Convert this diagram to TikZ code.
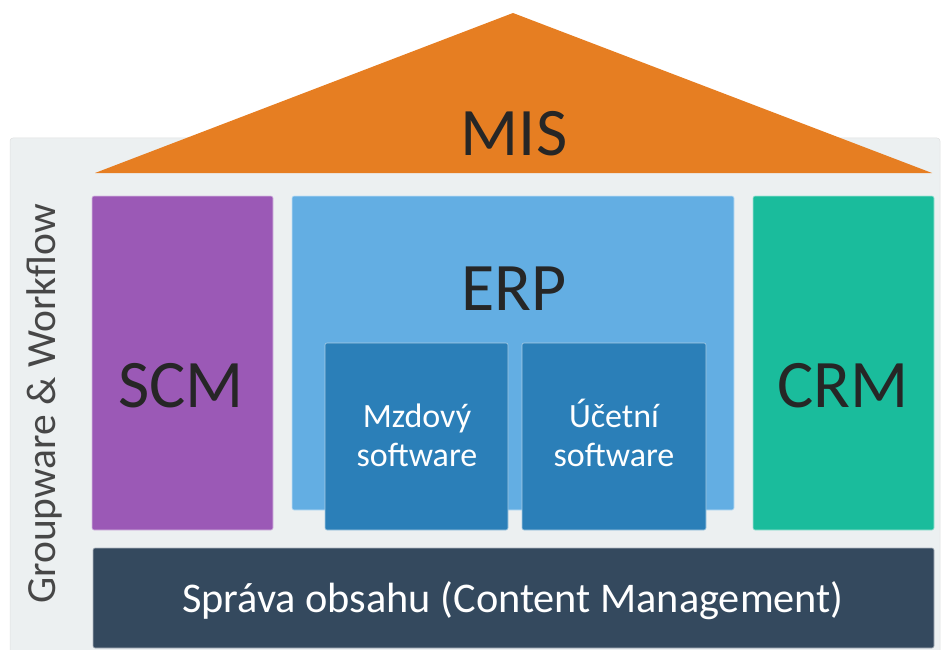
\documentclass[tikz,border=0pt]{standalone}
\usepackage{fontspec}
\setmainfont{Carlito}
\definecolor{panelgrey}{HTML}{ECF0F1}
\definecolor{roofor}{HTML}{E67E22}
\definecolor{scmpurple}{HTML}{9B59B6}
\definecolor{erpblue}{HTML}{63AEE3}
\definecolor{modblue}{HTML}{2B7FB8}
\definecolor{crmteal}{HTML}{1ABC9C}
\definecolor{basenavy}{HTML}{34495E}
\definecolor{inkdark}{HTML}{262626}
\tikzset{
  block/.style={rounded corners=2pt, draw=white!60!#1, line width=0.6pt, fill=#1},
  biglabel/.style={font=\fontsize{68}{70}\selectfont, text=inkdark, anchor=base, inner sep=0pt},
  modlabel/.style={font=\fontsize{34}{40}\selectfont, text=white, anchor=base, inner sep=0pt},
}
\begin{document}
\begin{tikzpicture}[x=1pt, y=-1pt]
\useasboundingbox (0,0) rectangle (942,650);
% grey panel behind the house
\draw[rounded corners=3pt, fill=panelgrey, draw=black!12, line width=0.5pt] (10,138) rectangle (940,670);
% roof
\fill[roofor] (95,173) -- (513,13) -- (932,173) -- cycle;
\node[biglabel] (mis) at (514,155) {MIS};
% pillars
\path[block=scmpurple] (92,196) rectangle (273,530);
\path[block=erpblue] (292,196) rectangle (734,510);
\path[block=crmteal] (753,196) rectangle (934,530);
\node[biglabel] (scm) at (181,407) {SCM};
\node[biglabel] (erp) at (514,310) {ERP};
\node[biglabel] (crm) at (843,407) {CRM};
% modules inside ERP
\path[block=modblue] (325,343) rectangle (508,530);
\path[block=modblue] (522,343) rectangle (706,530);
\node[modlabel] (mzd1) at (417,427) {Mzdový};
\node[modlabel] (mzd2) at (417,466) {software};
\node[modlabel] (uct1) at (614,427) {Účetní};
\node[modlabel] (uct2) at (614,466) {software};
% foundation
\path[block=basenavy] (93,548) rectangle (934,648);
\node[font=\fontsize{42.3}{46}\selectfont, text=white, anchor=base, inner sep=0pt] (cms) at (513,612) {Správa obsahu (Content Management)};
% side label
\node[font=\fontsize{41.5}{44}\selectfont, text=black!72, rotate=90, inner sep=0pt] (gw) at (44,404) {Groupware \& Workflow};
\end{tikzpicture}
\end{document}
